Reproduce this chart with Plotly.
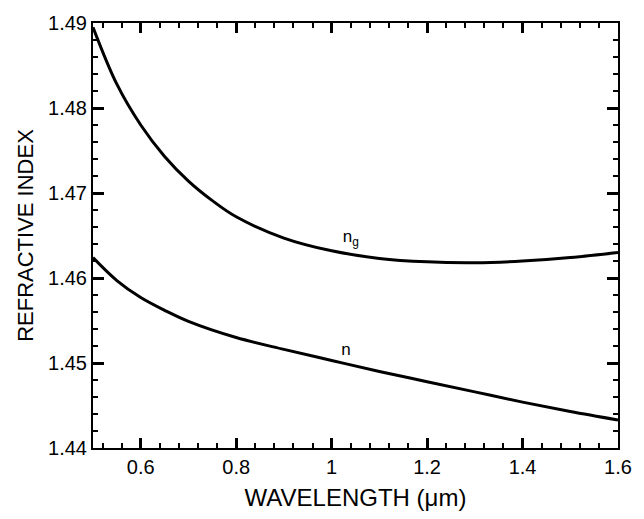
import plotly.graph_objects as go

# Wavelength (µm) and indices
wl_ng = [0.5, 0.55, 0.6, 0.65, 0.7, 0.75, 0.8, 0.9, 1.0, 1.1, 1.2, 1.3, 1.4, 1.5, 1.6]
ng = [1.4895, 1.4828, 1.4780, 1.4743, 1.4714, 1.4691, 1.4672, 1.4647, 1.4632,
      1.4623, 1.4619, 1.4618, 1.4620, 1.4624, 1.4630]

wl_n = [0.5, 0.55, 0.6, 0.65, 0.7, 0.8, 0.9, 1.0, 1.1, 1.2, 1.3, 1.4, 1.5, 1.6]
n = [1.4624, 1.4597, 1.4577, 1.4562, 1.4549, 1.4530, 1.4516, 1.4503, 1.4490,
     1.4478, 1.4466, 1.4454, 1.4443, 1.4433]

x_tickvals = [0.6, 0.8, 1.0, 1.2, 1.4, 1.6]
x_ticktext = ["0.6", "0.8", "1", "1.2", "1.4", "1.6"]
y_tickvals = [1.44, 1.45, 1.46, 1.47, 1.48, 1.49]
y_ticktext = ["1.44", "1.45", "1.46", "1.47", "1.48", "1.49"]

curve_labels = ["n<sub>g</sub>", "n"]
label_x = [1.04, 1.03]
label_y = [1.4647, 1.4515]

FONT = "Liberation Sans, Arial, sans-serif"

fig = go.Figure()
fig.add_trace(go.Scatter(x=wl_ng, y=ng, mode="lines",
                         line=dict(color="black", width=3, shape="spline"),
                         showlegend=False))
fig.add_trace(go.Scatter(x=wl_n, y=n, mode="lines",
                         line=dict(color="black", width=3, shape="spline"),
                         showlegend=False))
fig.add_trace(go.Scatter(x=label_x, y=label_y, mode="text", text=curve_labels,
                         textfont=dict(size=17, color="black"),
                         hoverinfo="skip", showlegend=False))

fig.update_layout(
    width=644, height=519,
    margin=dict(l=93, r=16, t=20, b=61),
    plot_bgcolor="white",
    font=dict(family=FONT, size=20, color="black"),
)
fig.update_xaxes(
    range=[0.5, 1.6], tickvals=x_tickvals, ticktext=x_ticktext,
    showline=True, linecolor="black", linewidth=2, mirror="ticks",
    ticks="inside", ticklen=10, tickwidth=3, tickcolor="black",
    minor=dict(ticks="inside", ticklen=5, tickwidth=2, tickcolor="black",
               tick0=0.52, dtick=0.04),
    title=dict(text="WAVELENGTH (μm)", standoff=12),
)
fig.update_yaxes(
    range=[1.44, 1.49], tickvals=y_tickvals, ticktext=y_ticktext,
    showline=True, linecolor="black", linewidth=2, mirror="ticks",
    ticks="inside", ticklen=11, tickwidth=3, tickcolor="black",
    minor=dict(ticks="inside", ticklen=5, tickwidth=2, tickcolor="black",
               tick0=1.44, dtick=0.002),
    title=dict(text="REFRACTIVE INDEX", font=dict(size=22), standoff=8),
)

fig.write_html("out.html")
